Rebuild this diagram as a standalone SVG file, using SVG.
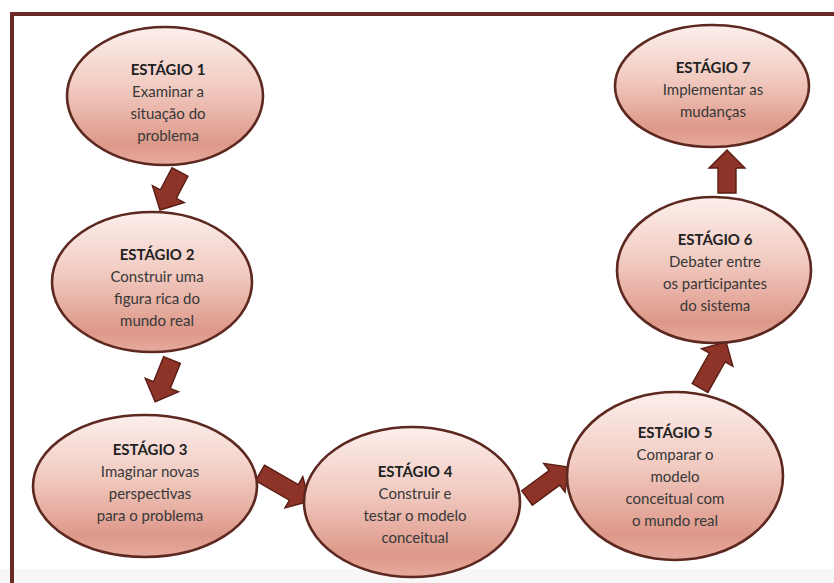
<svg xmlns="http://www.w3.org/2000/svg" width="834" height="583" viewBox="0 0 834 583">
  <defs>
    <linearGradient id="stageFill" x1="0" y1="0" x2="0" y2="1">
      <stop offset="0" stop-color="#fcefec"/>
      <stop offset="0.45" stop-color="#f1c9bf"/>
      <stop offset="0.85" stop-color="#dd9889"/>
      <stop offset="1" stop-color="#e6ab9d"/>
    </linearGradient>
  </defs>
  <style>
    .stage ellipse { fill: url(#stageFill); stroke: #5c2820; stroke-width: 2.6; }
    .stage text { font-family: Lato, "Open Sans", "Liberation Sans", sans-serif; font-size: 15px; fill: #383838; text-anchor: middle; }
    .stage text.title { font-weight: bold; fill: #222222; }
    .arrow { fill: #8d3327; stroke: #5a1d15; stroke-width: 1.4; stroke-linejoin: miter; }
  </style>

  <rect width="834" height="583" fill="#ffffff"/>
  <rect x="0" y="569" width="834" height="14" fill="#f7f7f7"/>
  <!-- frame -->
  <path d="M12,583 V14 H834" fill="none" stroke="#6b2a27" stroke-width="4"/>

  <g id="connectors">
    <path class="arrow" transform="translate(180,172) rotate(117.8)" d="M0,-9 L25,-9 L25,-18 L43,0 L25,18 L25,9 L0,9 Z"/>
    <path class="arrow" transform="translate(172,360) rotate(112)" d="M0,-9 L27,-9 L27,-18 L45,0 L27,18 L27,9 L0,9 Z"/>
    <path class="arrow" transform="translate(260,473) rotate(29.7)" d="M0,-9 L39,-9 L39,-18 L57,0 L39,18 L39,9 L0,9 Z"/>
    <path class="arrow" transform="translate(527,498) rotate(-36.4)" d="M0,-9 L34,-9 L34,-18 L52,0 L34,18 L34,9 L0,9 Z"/>
    <path class="arrow" transform="translate(700,388) rotate(-60.5)" d="M0,-9 L35,-9 L35,-18 L53,0 L35,18 L35,9 L0,9 Z"/>
    <path class="arrow" transform="translate(727,193) rotate(-90)" d="M0,-9 L25,-9 L25,-18 L43,0 L25,18 L25,9 L0,9 Z"/>
  </g>

  <g id="stage1" class="stage">
    <ellipse cx="165" cy="96" rx="98" ry="69"/>
    <text class="title" x="168" y="75">ESTÁGIO 1</text>
    <text x="168" y="97">Examinar a</text>
    <text x="168" y="119">situação do</text>
    <text x="168" y="141">problema</text>
  </g>

  <g id="stage2" class="stage">
    <ellipse cx="152" cy="282" rx="100" ry="70"/>
    <text class="title" x="157" y="260">ESTÁGIO 2</text>
    <text x="157" y="282">Construir uma</text>
    <text x="157" y="304">figura rica do</text>
    <text x="157" y="326">mundo real</text>
  </g>

  <g id="stage3" class="stage">
    <ellipse cx="145" cy="486" rx="112" ry="71"/>
    <text class="title" x="150" y="455">ESTÁGIO 3</text>
    <text x="150" y="477">Imaginar novas</text>
    <text x="150" y="499">perspectivas</text>
    <text x="150" y="521">para o problema</text>
  </g>

  <g id="stage4" class="stage">
    <ellipse cx="412" cy="502" rx="108" ry="75"/>
    <text class="title" x="415" y="477">ESTÁGIO 4</text>
    <text x="415" y="499">Construir e</text>
    <text x="415" y="521">testar o modelo</text>
    <text x="415" y="543">conceitual</text>
  </g>

  <g id="stage5" class="stage">
    <ellipse cx="675" cy="476" rx="108" ry="84"/>
    <text class="title" x="675" y="438">ESTÁGIO 5</text>
    <text x="675" y="460">Comparar o</text>
    <text x="675" y="482">modelo</text>
    <text x="675" y="504">conceitual com</text>
    <text x="675" y="526">o mundo real</text>
  </g>

  <g id="stage6" class="stage">
    <ellipse cx="714" cy="270" rx="97" ry="73"/>
    <text class="title" x="715" y="245">ESTÁGIO 6</text>
    <text x="715" y="267">Debater entre</text>
    <text x="715" y="289">os participantes</text>
    <text x="715" y="311">do sistema</text>
  </g>

  <g id="stage7" class="stage">
    <ellipse cx="712" cy="86" rx="97" ry="61"/>
    <text class="title" x="713" y="73">ESTÁGIO 7</text>
    <text x="713" y="95">Implementar as</text>
    <text x="713" y="117">mudanças</text>
  </g>
</svg>
